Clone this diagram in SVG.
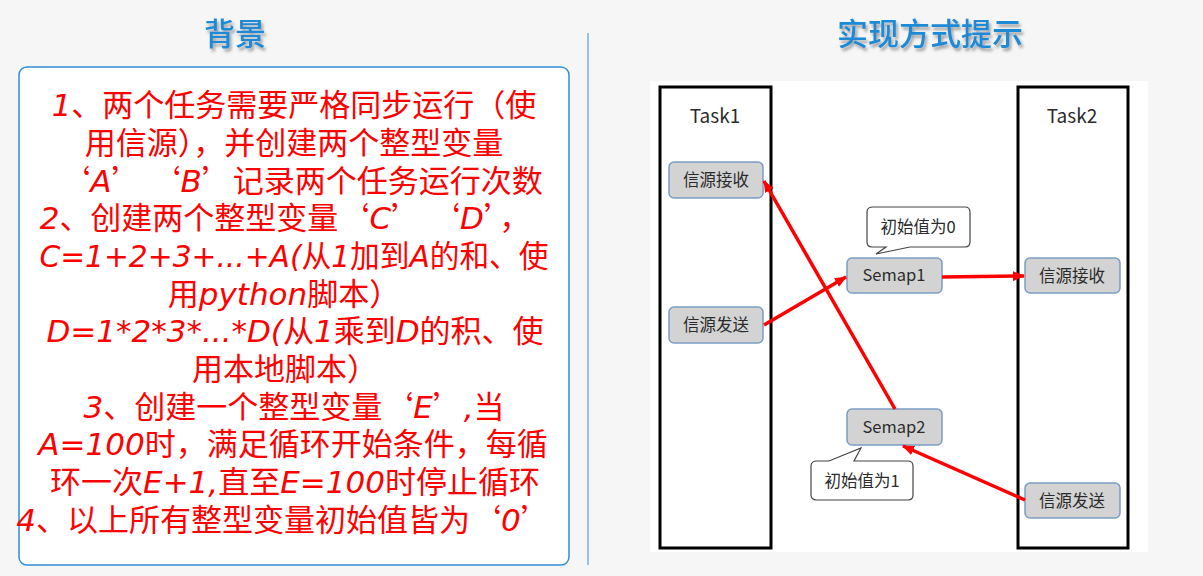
<svg xmlns="http://www.w3.org/2000/svg" width="1203" height="576" viewBox="0 0 1203 576">
  <defs>
    <filter id="shadow" x="-20%" y="-30%" width="140%" height="160%">
      <feDropShadow dx="2" dy="3" stdDeviation="1.6" flood-color="#555" flood-opacity="0.55"/>
    </filter>
    <marker id="arrow" viewBox="0 0 12 10" refX="11" refY="5" markerWidth="12" markerHeight="10" markerUnits="userSpaceOnUse" orient="auto">
      <path d="M0,0 L12,5 L0,10 Z" fill="#ff0000"/>
    </marker>
    <style>
      .title { font-family: "Noto Sans CJK SC", "Noto Sans", sans-serif; font-size: 31px; font-weight: 500; fill: #1a8ad6; text-anchor: middle; }
      .req { font-family: "Noto Sans CJK SC", "Noto Sans", sans-serif; font-size: 31px; fill: #ff0000; text-anchor: middle; }
      .lat { font-family: "DejaVu Sans", "Noto Sans CJK SC", sans-serif; font-style: italic; }
      .task { fill: #ffffff; stroke: #000000; stroke-width: 3; }
      .node rect { fill: #d3d3d3; stroke: #7b9dc4; stroke-width: 1.5; }
      .label { font-family: "Noto Sans CJK SC", "Noto Sans", sans-serif; font-size: 16.5px; fill: #2b2b2b; text-anchor: middle; }
      .tasklabel { font-family: "Noto Sans CJK SC", "Noto Sans", sans-serif; font-size: 19px; fill: #2b2b2b; text-anchor: middle; }
      .callout { fill: #ffffff; stroke: #444444; stroke-width: 1.2; }
      .link { stroke: #ff0000; stroke-width: 3.5; fill: none; marker-end: url(#arrow); }
    </style>
  </defs>

  <!-- page background -->
  <rect x="0" y="0" width="1203" height="576" fill="#f6f6f6"/>

  <!-- section titles -->
  <text class="title" x="235" y="45" filter="url(#shadow)">背景</text>
  <text class="title" x="930" y="45" filter="url(#shadow)">实现方式提示</text>

  <!-- divider -->
  <line x1="588" y1="33" x2="588" y2="565" stroke="#6fb3e3" stroke-width="1.5"/>

  <!-- requirements panel -->
  <g id="requirements">
    <rect x="19" y="67" width="550" height="498" rx="8" fill="#ffffff" stroke="#2e8fd6" stroke-width="1.5"/>
    <text class="req" x="294" y="116"><tspan class="lat">1</tspan>、两个任务需要严格同步运行（使</text>
    <text class="req" x="294" y="154">用信源），并创建两个整型变量</text>
    <text class="req" x="301" y="192">‘<tspan class="lat">A</tspan>’ ‘<tspan class="lat">B</tspan>’记录两个任务运行次数</text>
    <text class="req" x="285" y="229"><tspan class="lat">2</tspan>、创建两个整型变量‘<tspan class="lat">C</tspan>’ ‘<tspan class="lat">D</tspan>’，</text>
    <text class="req" x="294" y="267" textLength="509" lengthAdjust="spacingAndGlyphs"><tspan class="lat">C=1+2+3+...+A(</tspan>从<tspan class="lat">1</tspan>加到<tspan class="lat">A</tspan>的和、使</text>
    <text class="req" x="284" y="305">用<tspan class="lat">python</tspan>脚本）</text>
    <text class="req" x="295" y="342"><tspan class="lat">D=1*2*3*...*D(</tspan>从<tspan class="lat">1</tspan>乘到<tspan class="lat">D</tspan>的积、使</text>
    <text class="req" x="285" y="380">用本地脚本）</text>
    <text class="req" x="294" y="418"><tspan class="lat">3</tspan>、创建一个整型变量‘<tspan class="lat">E</tspan>’<tspan class="lat">,</tspan>当</text>
    <text class="req" x="293" y="455"><tspan class="lat">A=100</tspan>时，满足循环开始条件，每循</text>
    <text class="req" x="295" y="493">环一次<tspan class="lat">E+1,</tspan>直至<tspan class="lat">E=100</tspan>时停止循环</text>
    <text class="req" x="284" y="531"><tspan class="lat">4</tspan>、以上所有整型变量初始值皆为‘<tspan class="lat">0</tspan>’</text>
  </g>

  <!-- semaphore diagram canvas -->
  <rect x="650" y="81" width="498" height="471" fill="#ffffff"/>

  <g id="task1">
    <rect class="task" x="660" y="87" width="111" height="461"/>
    <text class="tasklabel" x="715" y="123">Task1</text>
  </g>
  <g id="task2">
    <rect class="task" x="1018" y="87" width="110" height="461"/>
    <text class="tasklabel" x="1072" y="123">Task2</text>
  </g>

  <g id="task1-recv" class="node">
    <rect x="669" y="162" width="94" height="36" rx="5"/>
    <text class="label" x="716" y="186">信源接收</text>
  </g>
  <g id="task1-send" class="node">
    <rect x="669" y="307" width="94" height="36" rx="5"/>
    <text class="label" x="716" y="331">信源发送</text>
  </g>
  <g id="semap1" class="node">
    <rect x="847" y="258" width="95" height="35" rx="5"/>
    <text class="label" x="894" y="281">Semap1</text>
  </g>
  <g id="task2-recv" class="node">
    <rect x="1025" y="258" width="95" height="35" rx="5"/>
    <text class="label" x="1072" y="282">信源接收</text>
  </g>
  <g id="semap2" class="node">
    <rect x="847" y="409" width="95" height="36" rx="5"/>
    <text class="label" x="894" y="433">Semap2</text>
  </g>
  <g id="task2-send" class="node">
    <rect x="1025" y="483" width="95" height="35" rx="5"/>
    <text class="label" x="1072" y="507">信源发送</text>
  </g>

  <g id="note-semap1">
    <path class="callout" d="M873,207 H965 Q970,207 970,212 V242 Q970,247 965,247 H910 L876,254 L886,247 H872 Q867,247 867,242 V212 Q867,207 873,207 Z"/>
    <text class="label" x="918" y="233">初始值为0</text>
  </g>
  <g id="note-semap2">
    <path class="callout" d="M817,461 H829 L861,448 L854,461 H908 Q913,461 913,466 V495 Q913,500 908,500 H817 Q811,500 811,495 V466 Q811,461 817,461 Z"/>
    <text class="label" x="862" y="487">初始值为1</text>
  </g>

  <!-- semaphore signalling -->
  <g id="connectors">
    <line class="link" x1="764" y1="325" x2="846" y2="277"/>
    <line class="link" x1="942" y1="277" x2="1024" y2="276"/>
    <line class="link" x1="895" y1="409" x2="764" y2="181"/>
    <line class="link" x1="1025" y1="500" x2="903" y2="446"/>
  </g>
</svg>
